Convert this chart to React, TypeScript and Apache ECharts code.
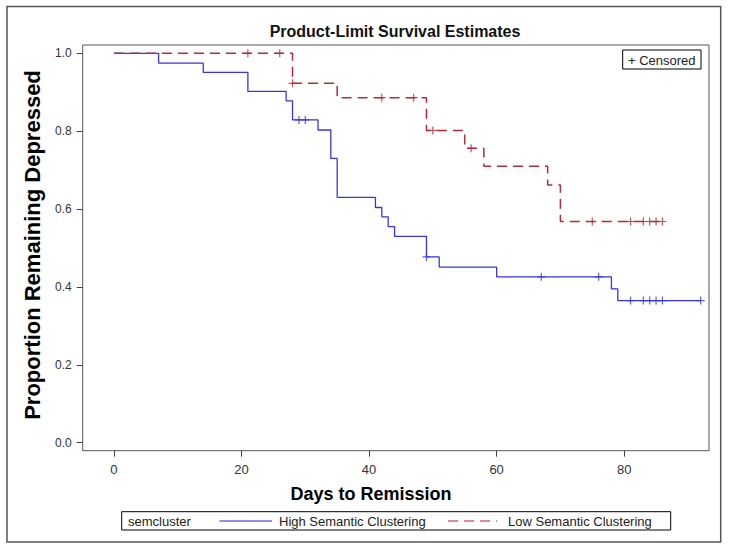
import React, { useEffect, useRef } from "react";
import * as echarts from "echarts";

// ---- Data ----
const highTimes = [0, 7, 14, 21, 27, 28, 32, 34, 35, 41, 42, 43, 44, 49, 51, 60, 78, 79, 92];
const highSurv = [1.0, 0.975, 0.951, 0.902, 0.878, 0.829, 0.803, 0.73, 0.63, 0.604, 0.58, 0.555, 0.53, 0.477, 0.451, 0.426, 0.395, 0.365, 0.365];
const highCensored = [29, 30, 49, 67, 76, 81, 83, 84, 85, 86, 92];

const lowTimes = [0, 28, 35, 49, 55, 58, 68, 70, 86];
const lowSurv = [1.0, 0.923, 0.886, 0.802, 0.756, 0.71, 0.662, 0.568, 0.568];
const lowCensored = [21, 26, 28, 42, 47, 50, 56, 75, 81, 83, 84, 85, 86];

const xTicks = [0, 20, 40, 60, 80];
const yTicks = [0, 0.2, 0.4, 0.6, 0.8, 1.0];

const seriesNames = ["High Semantic Clustering", "Low Semantic Clustering"];

const BLUE = "#3535e6";
const RED = "#b42a3a";
const FONT = "'Liberation Sans', Arial, sans-serif";

function survAt(times: number[], surv: number[], t: number) {
  let v = surv[0];
  for (let i = 0; i < times.length; i++) if (times[i] <= t) v = surv[i];
  return v;
}

const PLUS = "path://M5,0L5,10M0,5L10,5";

export default function App() {
  const ref = useRef<HTMLDivElement>(null);
  useEffect(() => {
    if (!ref.current) return;
    const chart = echarts.init(ref.current, undefined, { renderer: "svg" });
    const gl = 82.7, gt = 45, gw = 626.3, gh = 405.7;
    const option: any = {
      animation: false,
      backgroundColor: "#fff",
      grid: { left: gl, top: gt, width: gw, height: gh, show: true, borderColor: "#555", borderWidth: 1, backgroundColor: "#fff" },
      xAxis: {
        type: "value",
        min: -4.9,
        max: 93.3,
        axisLine: { show: false, onZero: false },
        splitLine: { show: false },
        axisTick: { show: true, length: 6, lineStyle: { color: "#444" }, customValues: xTicks },
        axisLabel: { show: true, customValues: xTicks, margin: 12, fontSize: 13, color: "#333", fontFamily: FONT },
      },
      yAxis: {
        type: "value",
        min: -0.0206,
        max: 1.0213,
        axisLine: { show: false, onZero: false },
        splitLine: { show: false },
        axisTick: { show: true, length: 6, lineStyle: { color: "#444" }, customValues: yTicks },
        axisLabel: { show: true, customValues: yTicks, margin: 11, fontSize: 12, color: "#333", fontFamily: FONT, formatter: (v: number) => v.toFixed(1) },
      },
      series: [
        {
          name: seriesNames[0],
          type: "line",
          step: "end",
          symbol: "none",
          data: highTimes.map((t, i) => [t, highSurv[i]]),
          lineStyle: { color: BLUE, width: 1.3 },
          z: 2,
        },
        {
          name: seriesNames[1],
          type: "line",
          step: "end",
          symbol: "none",
          data: lowTimes.map((t, i) => [t, lowSurv[i]]),
          lineStyle: { color: RED, width: 1.5, type: [10, 6] },
          z: 3,
        },
        {
          type: "scatter",
          symbol: PLUS,
          symbolSize: 8,
          data: highCensored.map((t) => [t, survAt(highTimes, highSurv, t)]),
          itemStyle: { color: BLUE, borderColor: BLUE, borderWidth: 1.2 },
          z: 4,
        },
        {
          type: "scatter",
          symbol: PLUS,
          symbolSize: 8,
          data: lowCensored.map((t) => [t, survAt(lowTimes, lowSurv, t)]),
          itemStyle: { color: RED, borderColor: RED, borderWidth: 1.2 },
          z: 4,
        },
      ],
      graphic: [
        { type: "rect", shape: { x: 7, y: 6.5, width: 713.7, height: 535.5 }, style: { fill: "none", stroke: "#555", lineWidth: 1.5 }, z: 0 },
        { type: "text", x: 395, y: 31, style: { text: "Product-Limit Survival Estimates", font: `bold 16px ${FONT}`, fill: "#111", textAlign: "center", textVerticalAlign: "middle" } },
        { type: "text", x: 371, y: 494, style: { text: "Days to Remission", font: `bold 18px ${FONT}`, fill: "#000", textAlign: "center", textVerticalAlign: "middle" } },
        { type: "text", x: 32, y: 245, rotation: Math.PI / 2, style: { text: "Proportion Remaining Depressed", font: `bold 22px ${FONT}`, fill: "#000", textAlign: "center", textVerticalAlign: "middle" } },
        // censored legend
        { type: "rect", shape: { x: 622.7, y: 50, width: 78.3, height: 19 }, style: { fill: "#fff", stroke: "#000", lineWidth: 1 }, z: 10 },
        { type: "text", x: 628, y: 60, style: { text: "+ Censored", font: `13px ${FONT}`, fill: "#222", textVerticalAlign: "middle" }, z: 11 },
        // bottom legend
        { type: "rect", shape: { x: 121.7, y: 511.7, width: 549, height: 18.3 }, style: { fill: "#fff", stroke: "#000", lineWidth: 1 }, z: 10 },
        { type: "text", x: 128, y: 521, style: { text: "semcluster", font: `13px ${FONT}`, fill: "#222", textVerticalAlign: "middle" }, z: 11 },
        { type: "line", shape: { x1: 219.4, y1: 521, x2: 272, y2: 521 }, style: { stroke: "#2020e0", lineWidth: 1 }, z: 11 },
        { type: "text", x: 279, y: 521, style: { text: seriesNames[0], font: `13px ${FONT}`, fill: "#222", textVerticalAlign: "middle" }, z: 11 },
        { type: "line", shape: { x1: 448, y1: 521, x2: 497, y2: 521 }, style: { stroke: "#cc1020", lineWidth: 1, lineDash: [10, 6] }, z: 11 },
        { type: "text", x: 508, y: 521, style: { text: seriesNames[1], font: `13px ${FONT}`, fill: "#222", textVerticalAlign: "middle" }, z: 11 },
      ],
    };
    chart.setOption(option);
    return () => chart.dispose();
  }, []);
  return <div ref={ref} style={{ position: "absolute", left: 0, top: 0, width: 729, height: 550 }} />;
}
